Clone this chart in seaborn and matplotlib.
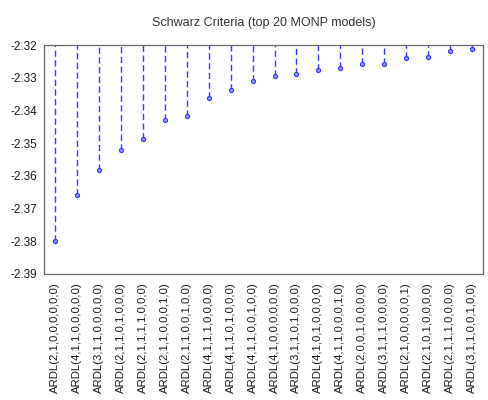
import seaborn as sns
import matplotlib.pyplot as plt
import matplotlib.ticker as mticker
import numpy as np
import pandas as pd

# top 20 models by Schwarz criterion
models = [
    "ARDL(2,1,0,0,0,0,0,0)", "ARDL(4,1,1,0,0,0,0,0)", "ARDL(3,1,1,0,0,0,0,0)",
    "ARDL(2,1,1,0,1,0,0,0)", "ARDL(2,1,1,1,1,0,0,0)", "ARDL(2,1,1,0,0,0,1,0)",
    "ARDL(2,1,1,0,0,1,0,0)", "ARDL(4,1,1,1,0,0,0,0)", "ARDL(4,1,1,0,1,0,0,0)",
    "ARDL(4,1,1,0,0,1,0,0)", "ARDL(4,1,0,0,0,0,0,0)", "ARDL(3,1,1,0,1,0,0,0)",
    "ARDL(4,1,0,1,0,0,0,0)", "ARDL(4,1,1,0,0,0,1,0)", "ARDL(2,0,0,1,0,0,0,0)",
    "ARDL(3,1,1,1,0,0,0,0)", "ARDL(2,1,0,0,0,0,0,1)", "ARDL(2,1,0,1,0,0,0,0)",
    "ARDL(2,1,1,1,0,0,0,0)", "ARDL(3,1,1,0,0,1,0,0)",
]
sic = [
    -2.3798, -2.3659, -2.3583, -2.3521, -2.3488, -2.3429, -2.3416, -2.3361,
    -2.3338, -2.3308, -2.3294, -2.3289, -2.3275, -2.3270, -2.3257, -2.3257,
    -2.3240, -2.3235, -2.3218, -2.3212,
]
y_ticks = [-2.32, -2.33, -2.34, -2.35, -2.36, -2.37, -2.38, -2.39]

df = pd.DataFrame({"model": models, "sic": sic})
df["pos"] = np.arange(len(df))

sns.set_style("white")
plt.rcParams["font.family"] = ["Liberation Sans", "DejaVu Sans"]

fig, ax = plt.subplots(figsize=(4.88, 4.0), dpi=100)
fig.subplots_adjust(left=0.09, right=0.99, top=0.887, bottom=0.315)

blue = "#3a3aff"
top = max(y_ticks)
ax.vlines(df["pos"], df["sic"], top, colors=blue, linestyles=(0, (4.5, 2.5)), linewidth=1.0)
sns.scatterplot(data=df, x="pos", y="sic", ax=ax, marker="o", s=9,
                color="#8f8fff", edgecolor=blue, linewidth=0.8, zorder=3)

ax.set_xlim(-0.5, len(df) - 0.5)
ax.set_ylim(min(y_ticks), top)
ax.set_yticks(y_ticks)
ax.yaxis.set_major_formatter(mticker.FormatStrFormatter("%.2f"))

# ticks sit between categories, labels centred on them
ax.set_xticks(np.arange(len(df) + 1) - 0.5)
ax.set_xticklabels([])
ax.set_xticks(df["pos"], minor=True)
ax.set_xticklabels(df["model"], minor=True, rotation=90, fontsize=8.2, color="#1a1a1a")
ax.tick_params(axis="x", which="minor", length=0, pad=6)
ax.tick_params(axis="x", which="major", length=4, width=0.8, color="#555555", direction="out")
ax.tick_params(axis="y", length=4, width=0.8, color="#555555", direction="out",
               labelsize=8.5, labelcolor="#1a1a1a", pad=1)

for sp in ax.spines.values():
    sp.set_color("#666666")
    sp.set_linewidth(0.9)

ax.set_xlabel("")
ax.set_ylabel("")
ax.set_title("Schwarz Criteria (top 20 MONP models)", fontsize=9, color="#333333", pad=14)

fig.savefig("out.png", dpi=100)
